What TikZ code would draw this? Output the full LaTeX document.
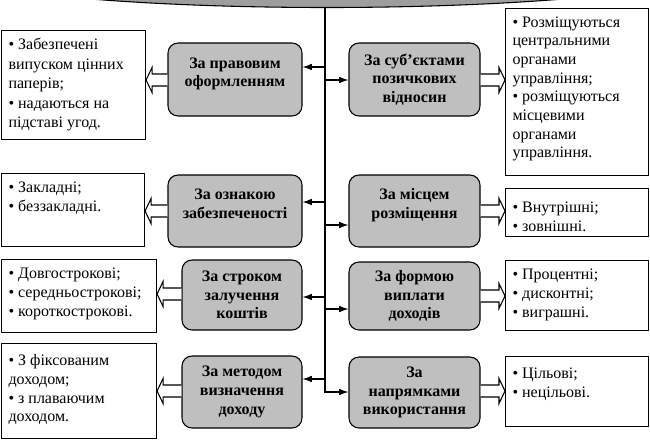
\documentclass[tikz,border=0pt]{standalone}
\usepackage{fontspec}
\setmainfont{Liberation Serif}
\usetikzlibrary{shapes.geometric,arrows.meta,calc}
\newcommand\tcont[4][0pt]{\parbox[c][\dimexpr#3-10pt\relax][t]{\dimexpr#2-10.5pt\relax}{\vspace*{#1}\raggedright #4}}
\newcommand\hollowL[2]{\filldraw[hol] let \p1=(#1), \p2=(#2) in (\x1,\y1+4.5pt) -- (\x2+4.5pt,\y1+4.5pt) -- (\x2+4.5pt,\y1+9.4pt) -- (\x2,\y1) -- (\x2+4.5pt,\y1-9.4pt) -- (\x2+4.5pt,\y1-4.5pt) -- (\x1,\y1-4.5pt);}
\newcommand\hollowR[2]{\filldraw[hol] let \p1=(#1), \p2=(#2) in (\x1,\y1+4.5pt) -- (\x2-4.5pt,\y1+4.5pt) -- (\x2-4.5pt,\y1+9.4pt) -- (\x2,\y1) -- (\x2-4.5pt,\y1-9.4pt) -- (\x2-4.5pt,\y1-4.5pt) -- (\x1,\y1-4.5pt);}
\begin{document}
\begin{tikzpicture}[x=0.75pt,y=-0.75pt,
  font=\fontsize{12}{14}\selectfont,
  gbox/.style 2 args={draw, fill=black!25, rounded corners=7.5pt, line width=0.8pt, align=center,
    font=\fontsize{12}{14}\selectfont\bfseries, minimum width=#1*0.75pt, minimum height=#2*0.75pt, inner sep=2pt},
  tbox/.style={draw, line width=0.8pt, anchor=north west, inner xsep=5.25pt, inner ysep=5pt, fill=white},
  conn/.style={line width=0.8pt, -{Latex[length=7pt,width=5pt]}},
  hol/.style={line width=0.8pt, fill=white}]
\useasboundingbox (0,0) rectangle (650,440);
\begin{scope}
  \clip (0,0) rectangle (650,440);
  \node[ellipse, draw, fill=black!38, line width=0.8pt, inner sep=0pt,
        minimum width=621pt, minimum height=71.25pt] (top) at (327,-40) {};
\end{scope}
% rows
\coordinate (tk) at (325,0);
\coordinate (aL1) at (0,67);  \coordinate (aL2) at (0,202);
\coordinate (aL3) at (0,297); \coordinate (aL4) at (0,379);
\coordinate (aR1) at (0,80);  \coordinate (aR2) at (0,225);
\coordinate (aR3) at (0,309); \coordinate (aR4) at (0,392);
\coordinate (hL1) at (0,80);  \coordinate (hL2) at (0,211);
\coordinate (hL3) at (0,294); \coordinate (hL4) at (0,391);
\coordinate (hR1) at (0,80);  \coordinate (hR2) at (0,211);
\coordinate (hR3) at (0,296); \coordinate (hR4) at (0,391);
% grey boxes
\node[gbox={134}{73}] (gL1) at (235,79.5) {За правовим\\оформленням\\[-3pt]\mbox{}};
\node[gbox={134}{72}] (gL2) at (235,211) {За ознакою\\забезпеченості\\[-3pt]\mbox{}};
\node[gbox={120}{70}] (gL3) at (242,295) {За строком\\залучення\\коштів};
\node[gbox={120}{72}] (gL4) at (242,392) {За методом\\визначення\\доходу};
\node[gbox={131}{73}] (gR1) at (414.5,79.5) {За суб’єктами\\позичкових\\відносин};
\node[gbox={131}{72}] (gR2) at (414.5,211) {За місцем\\розміщення\\[-3pt]\mbox{}};
\node[gbox={131}{68}] (gR3) at (414.5,296) {За формою\\виплати\\доходів};
\node[gbox={131}{71}] (gR4) at (414.5,392.5) {За\\напрямками\\використання};
% text boxes
\node[tbox] (tL1) at (1,30) {\tcont[1pt]{108pt}{81.75pt}{\fontsize{12}{14.6}\selectfont • Забезпечені\\випуском цінних\\паперів;\\• надаються на\\підставі угод.}};
\node[tbox] (tL2) at (1,173) {\tcont[1.5pt]{107.25pt}{54.75pt}{• Закладні;\\• беззакладні.}};
\node[tbox] (tL3) at (1,259) {\tcont[1.5pt]{116.25pt}{54.75pt}{• Довгострокові;\\• середньострокові;\\• короткострокові.}};
\node[tbox] (tL4) at (1,343) {\tcont[3.5pt]{116.25pt}{71.25pt}{• З фіксованим\\доходом;\\• з плаваючим\\доходом.}};
\node[tbox] (tR1) at (505,8) {\tcont[1pt]{107.25pt}{125.25pt}{• Розміщуються\\центральними\\органами\\управління;\\• розміщуються\\місцевими\\органами\\управління.}};
\node[tbox] (tR2) at (505,188) {\tcont[5pt]{107.25pt}{36pt}{• Внутрішні;\\• зовнішні.}};
\node[tbox] (tR3) at (505,260) {\tcont[1.5pt]{107.25pt}{52.5pt}{• Процентні;\\• дисконтні;\\• виграшні.}};
\node[tbox] (tR4) at (505,356) {\tcont[3.5pt]{107.25pt}{52.5pt}{• Цільові;\\• нецільові.}};
% trunk
\draw[conn] (tk |- top.south) -- (tk |- aR4) -- (gR4.west |- aR4);
\draw[conn] (tk |- aL1) -- (gL1.east |- aL1);
\draw[conn] (tk |- aL2) -- (gL2.east |- aL2);
\draw[conn] (tk |- aL3) -- (gL3.east |- aL3);
\draw[conn] (tk |- aL4) -- (gL4.east |- aL4);
\draw[conn] (tk |- aR1) -- (gR1.west |- aR1);
\draw[conn] (tk |- aR2) -- (gR2.west |- aR2);
\draw[conn] (tk |- aR3) -- (gR3.west |- aR3);
% hollow arrows
\hollowL{gL1.west |- hL1}{tL1.east}
\hollowL{gL2.west |- hL2}{tL2.east}
\hollowL{gL3.west |- hL3}{tL3.east}
\hollowL{gL4.west |- hL4}{tL4.east}
\hollowR{gR1.east |- hR1}{tR1.west}
\hollowR{gR2.east |- hR2}{tR2.west}
\hollowR{gR3.east |- hR3}{tR3.west}
\hollowR{gR4.east |- hR4}{tR4.west}
\end{tikzpicture}
\end{document}
